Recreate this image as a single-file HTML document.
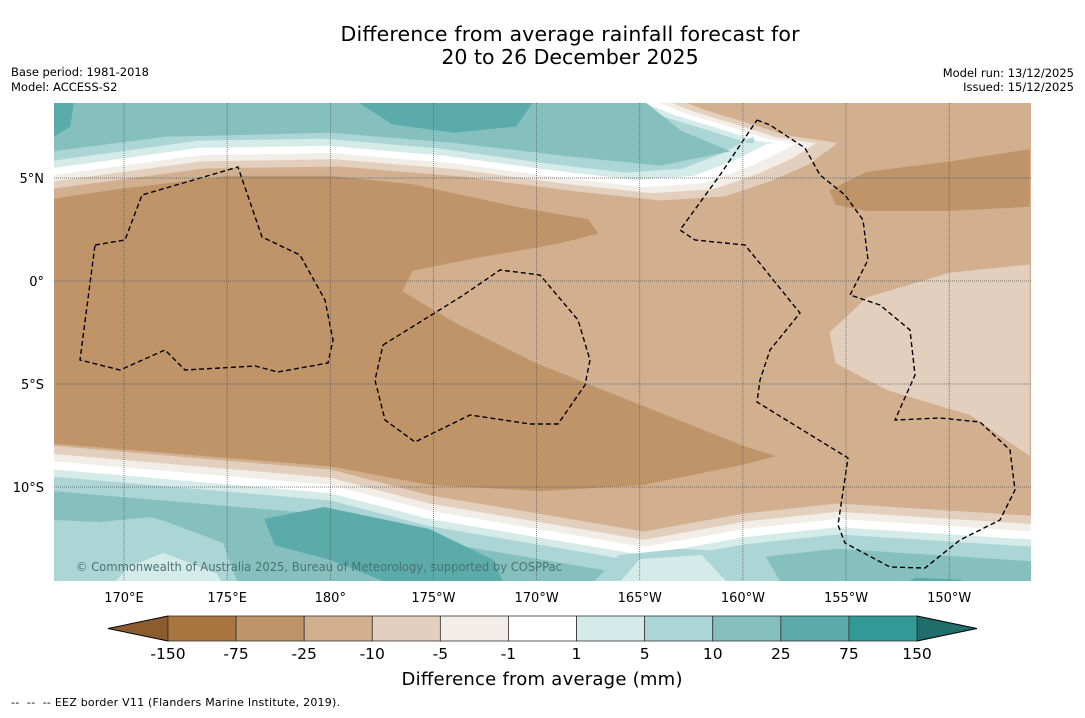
<!DOCTYPE html>
<html><head><meta charset="utf-8">
<style>
body{margin:0;background:#fff;font-family:"Liberation Sans","DejaVu Sans",sans-serif;}
svg text{font-family:"DejaVu Sans","Liberation Sans",sans-serif;}
</style></head>
<body>
<svg id="c" width="1085" height="713" xmlns="http://www.w3.org/2000/svg">
<text x="570" y="41" font-size="20.5" text-anchor="middle" textLength="459">Difference from average rainfall forecast for</text>
<text x="570" y="64" font-size="20.5" text-anchor="middle">20 to 26 December 2025</text>
<text x="11" y="76" font-size="11.5" textLength="138">Base period: 1981-2018</text>
<text x="11" y="91" font-size="11.5">Model: ACCESS-S2</text>
<text x="1074" y="77" font-size="11.5" text-anchor="end">Model run: 13/12/2025</text>
<text x="1074" y="91" font-size="11.5" text-anchor="end">Issued: 15/12/2025</text>
<defs><clipPath id="mc"><rect x="54" y="103" width="977" height="478"/></clipPath></defs>
<g id="map" clip-path="url(#mc)"></g>
<g id="axes"></g>
<g id="cbar"></g>
<text x="542" y="685" font-size="18" text-anchor="middle" textLength="281">Difference from average (mm)</text>
<text x="11" y="706" font-size="11" textLength="329">-- &#160;-- &#160;-- EEZ border V11 (Flanders Marine Institute, 2019).</text>
</svg>
<script>
const NS='http://www.w3.org/2000/svg';
const lonTicks=[170,175,180,185,190,195,200,205,210];
const lonLabels=['170°E','175°E','180°','175°W','170°W','165°W','160°W','155°W','150°W'];
const latTicks=[5,0,-5,-10];
const latLabels=['5°N','0°','5°S','10°S'];
const levels=['-150','-75','-25','-10','-5','-1','1','5','10','25','75','150'];
const colors=['#a97640','#bf9468','#d2b08f','#e3cfbd','#f2ede6','#ffffff','#d5ebea','#acd6d5','#85c0bf','#5aabaa','#339996'];
// northern wet tongue: lower edge, tip and upper edge (lon, lat)
const tongueLower=[[166.6,5.29],[173.7,6.26],[180.0,6.36],[185.8,5.87],[191.1,5.15],[195.0,4.71],[197.9,4.90],[199.9,5.63],[201.6,6.46]];
const tongueTip=[202.2,6.7];
const tongueUpper=[[201.0,6.85],[199.3,7.4],[197.0,8.1],[195.5,8.7],[195.0,8.9]];
const southBase=[[166.6,-8.9],[180.0,-10.05],[184.8,-11.3],[195.2,-13.06],[200.1,-12.18],[204.6,-11.7],[214,-12.3]];
const northOffsets=[[-0.8,3],[-0.45,4],[-0.15,5],[0.2,6],[0.55,7]];
const southOffsets=[[0.9,3],[0.5,4],[0.15,5],[-0.25,6],[-0.6,7],[-1.3,8]];
const brownMain=[[166.6,4.0],[170,4.5],[175,5.1],[180,5.1],[184,4.7],[189,3.6],[192.5,3.0],[193,2.3],[191,1.8],[187,1.1],[184,0.5],[183.5,-0.5],[186,-2.0],[190,-4.0],[195,-6.0],[200,-8.0],[201.6,-8.5],[200.1,-8.9],[195.2,-9.9],[190.3,-10.2],[184.8,-9.9],[180,-9.0],[166.6,-7.9]];
const brownRight=[[204.2,4.4],[206,5.3],[210,5.8],[213.9,6.4],[213.9,3.6],[210,3.4],[206,3.4],[204.5,3.7]];
const lightRight=[[213.9,0.8],[210,0.4],[206,-0.8],[204.2,-2.5],[204.5,-4],[207,-5.3],[211,-6.5],[213.9,-8.5]];
const teal25N=[[166.6,6.3],[172,7.0],[180,7.2],[186,6.7],[192,6.0],[196,5.6],[199.4,6.3],[197,7.3],[195,8.9],[166.6,8.9]];
const teal75N1=[[166.6,8.9],[167.6,8.9],[167.4,7.5],[166.6,7.0]];
const teal75N2=[[181,8.9],[190,8.9],[189,7.5],[186,7.2],[183,7.6]];
const light10S=[[166.6,-11.6],[168.8,-11.7],[171.3,-11.46],[172.1,-11.7],[174.8,-12.72],[175.6,-14.9],[166.6,-14.9]];
const light5S1=[[169.3,-14.9],[170.2,-13.9],[171.9,-13.2],[174.5,-14.2],[174.9,-14.9]];
const teal75S1=[[176.8,-11.55],[179.7,-10.97],[184.8,-12.04],[187.9,-13.54],[188.5,-14.9],[183.4,-14.9],[180.0,-13.54],[177.3,-12.82]];
const light10S2=[[192.5,-14.9],[194,-13.3],[197,-13.0],[201,-13.2],[202,-14.9]];
const light5S2=[[193.8,-14.9],[195,-13.5],[198,-13.3],[199.5,-14.9]];
const teal75S2=[[207.2,-14.9],[208.4,-14.4],[210.6,-14.5],[211.3,-14.9]];
const eez=[
[[95,245],[125,240],[142,195],[238,167],[262,237],[300,255],[325,300],[333,340],[328,363],[278,372],[255,366],[185,370],[165,350],[120,370],[80,360],[95,245]],
[[383,345],[462,296],[500,270],[540,275],[578,320],[590,360],[585,385],[558,424],[530,424],[470,415],[415,442],[385,420],[375,380],[383,345]],
[[757,120],[770,125],[805,148],[820,175],[845,195],[863,220],[868,260],[850,295],[880,305],[910,330],[915,375],[895,420],[940,418],[980,422],[1010,450],[1015,490],[1000,520],[960,540],[925,568],[890,567],[845,543],[838,525],[848,458],[757,402],[760,380],[770,350],[800,313],[745,245],[695,240],[680,230],[720,175],[757,120]]];
const xs=lon=>124+(lon-170)*20.63;
const ys=lat=>281-lat*20.6;
const map=document.getElementById('map');
function poly(pts,fill,name){const p=document.createElementNS(NS,'polygon');
p.setAttribute('points',pts.map(q=>xs(q[0]).toFixed(1)+','+ys(q[1]).toFixed(1)).join(' '));
p.setAttribute('fill',fill);


map.appendChild(p);}
const bg=document.createElementNS(NS,'rect');
bg.setAttribute('x',54);bg.setAttribute('y',103);bg.setAttribute('width',977);bg.setAttribute('height',478);bg.setAttribute('fill',colors[2]);


map.appendChild(bg);
northOffsets.forEach(o=>{
  const d=o[0];
  const pts=[[160,tongueLower[0][1]+d]].concat(tongueLower.map((q,i)=>[q[0]-d*2*(i/(tongueLower.length-1)),q[1]+d]));
  pts.push([tongueTip[0]-d*3,tongueTip[1]]);
  tongueUpper.forEach(q=>pts.push([q[0]-d*1.3,q[1]-d*0.3]));
  pts.push([tongueUpper[tongueUpper.length-1][0]-d*1.3,10],[160,10]);
  poly(pts,colors[o[1]],'north-contour-band');});
southOffsets.forEach(o=>{const pts=southBase.map(q=>[q[0],q[1]+o[0]]);pts.push([214,-15],[166,-15]);poly(pts,colors[o[1]],'south-contour-band');});
poly(teal25N,colors[8],'north-teal-band');
poly(teal75N1,colors[9],'north-teal-patch');
poly(teal75N2,colors[9],'north-teal-patch');
poly(light10S,colors[7],'south-light-patch');
poly(light5S1,colors[6],'south-lightest-patch');
poly(teal75S1,colors[9],'south-teal-patch');
poly(light10S2,colors[7],'south-mid-light-patch');
poly(light5S2,colors[6],'south-mid-lightest-patch');
poly(teal75S2,colors[9],'south-teal-patch');
poly(brownMain,colors[1],'dry-band');
poly(brownRight,colors[1],'dry-patch-east');
poly(lightRight,colors[3],'moderate-dry-bulge');
eez.forEach(e=>{const p=document.createElementNS(NS,'polyline');p.setAttribute('points',e.map(q=>q.join(',')).join(' '));p.setAttribute('fill','none');p.setAttribute('stroke','#000');p.setAttribute('stroke-width','1.4');p.setAttribute('stroke-dasharray','5,3');


map.appendChild(p);});
const ax=document.getElementById('axes');
lonTicks.forEach((l,i)=>{const g=document.createElementNS(NS,'line');g.setAttribute('x1',xs(l));g.setAttribute('x2',xs(l));g.setAttribute('y1',103);g.setAttribute('y2',581);g.setAttribute('stroke','#555');g.setAttribute('stroke-width','0.7');g.setAttribute('stroke-dasharray','1,1');


ax.appendChild(g);
const t=document.createElementNS(NS,'text');t.setAttribute('x',xs(l));t.setAttribute('y',602);t.setAttribute('font-size','13');t.setAttribute('text-anchor','middle');t.textContent=lonLabels[i];


ax.appendChild(t);});
latTicks.forEach((l,i)=>{const g=document.createElementNS(NS,'line');g.setAttribute('x1',54);g.setAttribute('x2',1031);g.setAttribute('y1',ys(l));g.setAttribute('y2',ys(l));g.setAttribute('stroke','#555');g.setAttribute('stroke-width','0.7');g.setAttribute('stroke-dasharray','1,1');


ax.appendChild(g);
const t=document.createElementNS(NS,'text');t.setAttribute('x',44);t.setAttribute('y',ys(l)+5);t.setAttribute('font-size','13');t.setAttribute('text-anchor','end');t.textContent=latLabels[i];


ax.appendChild(t);});
const cp=document.createElementNS(NS,'text');cp.setAttribute('x',76);cp.setAttribute('y',571);cp.setAttribute('font-size','12');cp.setAttribute('fill','#4a7370');cp.setAttribute('textLength','486');cp.setAttribute('lengthAdjust','spacingAndGlyphs');cp.textContent='© Commonwealth of Australia 2025, Bureau of Meteorology, supported by COSPPac';


ax.appendChild(cp);
const cb=document.getElementById('cbar');
const cx0=168,cw=(917-168)/11,cy=616,ch=25;
function el(tag,attrs,name){const e=document.createElementNS(NS,tag);for(const k in attrs)e.setAttribute(k,attrs[k]);


cb.appendChild(e);return e;}
el('polygon',{points:`${cx0},${cy} 108,${cy+ch/2} ${cx0},${cy+ch}`,fill:'#8c5c2e',stroke:'#000','stroke-width':1},'colorbar-low-extend');
el('polygon',{points:`917,${cy} 977,${cy+ch/2} 917,${cy+ch}`,fill:'#1f6e6b',stroke:'#000','stroke-width':1},'colorbar-high-extend');
colors.forEach((c,i)=>{el('rect',{x:cx0+i*cw,y:cy,width:cw,height:ch,fill:c,stroke:'#333','stroke-width':0.8},'colorbar-segment');});
levels.forEach((l,i)=>{const t=el('text',{x:cx0+i*cw,y:659,'font-size':15.5,'text-anchor':'middle'},'colorbar-tick-label');t.textContent=l;});
</script>
</body></html>
